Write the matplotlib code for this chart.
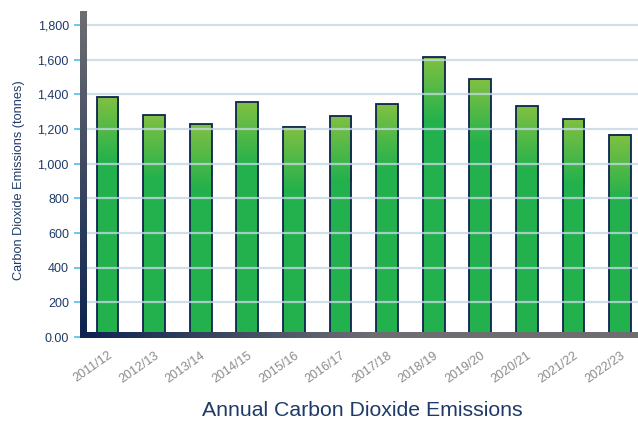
import numpy as np
import matplotlib.pyplot as plt
from matplotlib.colors import to_rgb

# Annual CO2 emissions (tonnes)
years = ['2011/12', '2012/13', '2013/14', '2014/15', '2015/16', '2016/17',
         '2017/18', '2018/19', '2019/20', '2020/21', '2021/22', '2022/23']
emissions = [1386, 1280, 1226, 1353, 1214, 1277, 1346, 1613, 1486, 1330, 1255, 1168]
y_ticks = [0, 200, 400, 600, 800, 1000, 1200, 1400, 1600, 1800]

NAVY = '#0d2350'
GREY = '#6d6e72'
TEXT = '#1f3a68'
GREEN = '#22b14c'
LIME = '#80c042'

plt.rcParams['font.family'] = ['Liberation Sans', 'DejaVu Sans']

W, H = 638, 422
fig = plt.figure(figsize=(W / 100, H / 100), dpi=100)


def px_axes(x0, y0, x1, y1):
    # rectangle given in pixels from the top-left corner
    return [x0 / W, 1 - y1 / H, (x1 - x0) / W, (y1 - y0) / H]


ax = fig.add_axes(px_axes(80, 11, 638, 337))
step = 46.6
xlim = ((80 - 107.5) / step, (638 - 107.5) / step)
ylim = (0, 326 / 0.17333)

x = np.arange(len(years))
bw = 0.47
c_top, c_body = np.array(to_rgb(LIME)), np.array(to_rgb(GREEN))
for xi, v in zip(x, emissions):
    ax.bar(xi, v, width=bw, color=GREEN, edgecolor='none', zorder=2)
    # lighter top fading into the green body
    g0 = max(0, v - 380)
    t = np.linspace(1, 0, 64)[:, None]
    img = (c_body + (c_top - c_body) * t)[:, None, :].repeat(2, axis=1)
    ax.imshow(img, extent=(xi - bw / 2, xi + bw / 2, g0, v), aspect='auto',
              zorder=2.1, interpolation='bilinear')
    ax.bar(xi, v, width=bw, color='none', edgecolor=NAVY, linewidth=1.3, zorder=2.2)

ax.set_xlim(*xlim)
ax.set_ylim(*ylim)

for yt in y_ticks[1:]:
    ax.axhline(yt, color='#c2d7e3', lw=1.6, alpha=0.8, zorder=3)

for s in ax.spines.values():
    s.set_visible(False)
ax.set_yticks(y_ticks)
ax.set_yticklabels(['0.00'] + [f'{t:,}' for t in y_ticks[1:]])
ax.tick_params(axis='y', length=4, width=1.2, color='#4fc0ea', labelcolor=TEXT,
               labelsize=9, pad=4)
ax.set_xticks(x)
ax.set_xticklabels(years, rotation=35, ha='right', rotation_mode='anchor',
                   color='#8a8a8a', fontsize=9)
ax.tick_params(axis='x', length=0, pad=9)
ax.set_ylabel('Carbon Dioxide Emissions (tonnes)', color=TEXT, fontsize=9.2)
ax.yaxis.set_label_coords((25 - 80) / 558, 0.48)

# left wall: grey fading to navy at the bottom
wall = fig.add_axes(px_axes(80, 11, 86.7, 333))
g = np.linspace(0, 1, 100)[:, None, None]
wall.imshow(np.array(to_rgb(GREY)) + g * (np.array(to_rgb(NAVY)) - np.array(to_rgb(GREY))),
            aspect='auto', interpolation='bilinear')
wall.axis('off')

# floor: navy on the left fading to grey
floor = fig.add_axes(px_axes(80, 331.5, 638, 338))
f = np.clip(np.linspace(0, 1.9, 200), 0, 1)[None, :, None]
floor.imshow(np.array(to_rgb(NAVY)) + f * (np.array(to_rgb(GREY)) - np.array(to_rgb(NAVY))),
             aspect='auto', interpolation='bilinear')
floor.axis('off')

fig.text(362 / W, 1 - 410 / H, 'Annual Carbon Dioxide Emissions', ha='center',
         va='center', fontsize=15.3, color=TEXT)

fig.savefig('out.png', dpi=100)
